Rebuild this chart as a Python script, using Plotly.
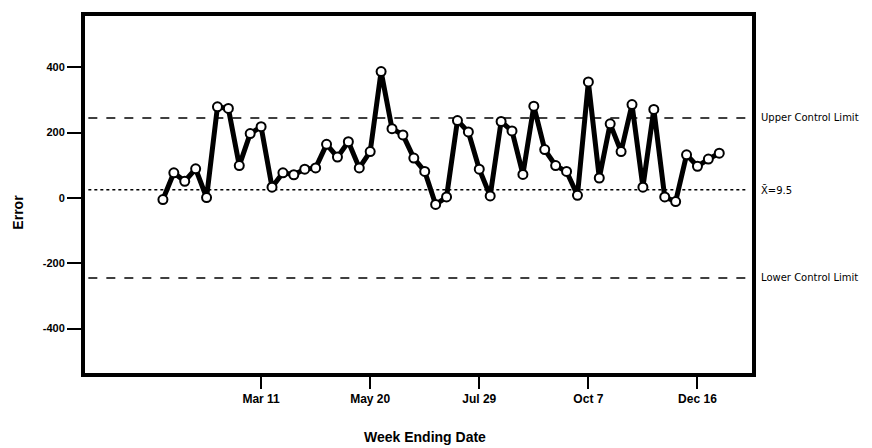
import plotly.graph_objects as go
import pandas as pd

# Week ending dates (Sundays, 1990)
weeks = pd.date_range("1990-01-07", periods=52, freq="7D")
errors = [-5, 77, 51, 89, 1, 279, 274, 99, 197, 218,
          33, 77, 71, 88, 92, 164, 125, 172, 92, 142,
          387, 212, 193, 122, 81, -20, 3, 237, 202, 88,
          6, 234, 205, 72, 281, 148, 99, 81, 8, 355,
          61, 227, 142, 286, 33, 271, 3, -11, 132, 97,
          119, 137]

ucl = 245
lcl = -245
center = 25
center_label = "X\u0304=9.5"

tick_dates = ["1990-03-11", "1990-05-20", "1990-07-29", "1990-10-07", "1990-12-16"]
tick_text = ["Mar 11", "May 20", "Jul 29", "Oct 7", "Dec 16"]
y_ticks = [-400, -200, 0, 200, 400]

x_range = ["1989-11-18", "1991-01-20"]
y_range = [-536, 557]

fig = go.Figure()
fig.add_trace(go.Scatter(
    x=weeks, y=errors, mode="lines+markers",
    line=dict(color="black", width=5),
    marker=dict(symbol="circle", size=9, color="white",
                line=dict(color="black", width=2)),
    showlegend=False, hoverinfo="x+y"))

for val, dash in [(ucl, "dash"), (lcl, "dash"), (center, "dot")]:
    fig.add_shape(type="line", xref="paper", yref="y", x0=0.005, x1=0.99,
                  y0=val, y1=val, line=dict(color="black", width=1.5, dash=dash),
                  layer="below")

side_font = dict(family="DejaVu Sans", size=10, color="black")
for val, txt in [(ucl, "Upper Control Limit"), (center, center_label), (lcl, "Lower Control Limit")]:
    fig.add_annotation(xref="paper", yref="y", x=1.01, y=val, text=txt,
                       showarrow=False, xanchor="left", yanchor="middle", font=side_font)

fig.add_annotation(xref="paper", yref="paper", x=-0.1, y=0.45, text="<b>Error</b>",
                   textangle=-90, showarrow=False, xanchor="center", yanchor="middle",
                   font=dict(family="Liberation Sans", size=14, color="black"))
fig.add_annotation(xref="paper", yref="paper", x=0.51, y=-0.18, text="<b>Week Ending Date</b>",
                   showarrow=False, xanchor="center", yanchor="middle",
                   font=dict(family="Liberation Sans", size=14, color="black"))

fig.update_xaxes(range=x_range, tickvals=tick_dates, ticktext=tick_text,
                 showgrid=False, zeroline=False, showline=True, linecolor="black",
                 linewidth=4, mirror=True, ticks="outside", ticklen=12, tickwidth=2,
                 tickcolor="black",
                 tickfont=dict(family="Liberation Sans", size=12, color="black", weight="bold"))
fig.update_yaxes(range=y_range, tickvals=y_ticks, ticktext=[str(v) for v in y_ticks],
                 showgrid=False, zeroline=False, showline=True, linecolor="black",
                 linewidth=4, mirror=True, ticks="outside", ticklen=14, tickwidth=2,
                 tickcolor="black",
                 tickfont=dict(family="Liberation Sans", size=11, color="black", weight="bold"))

fig.update_layout(width=872, height=448, margin=dict(l=85, r=120, t=12, b=75),
                  plot_bgcolor="white", paper_bgcolor="white")

fig.write_html("out.html", config={"displayModeBar": False},
               post_script="document.body.style.margin='0';")
